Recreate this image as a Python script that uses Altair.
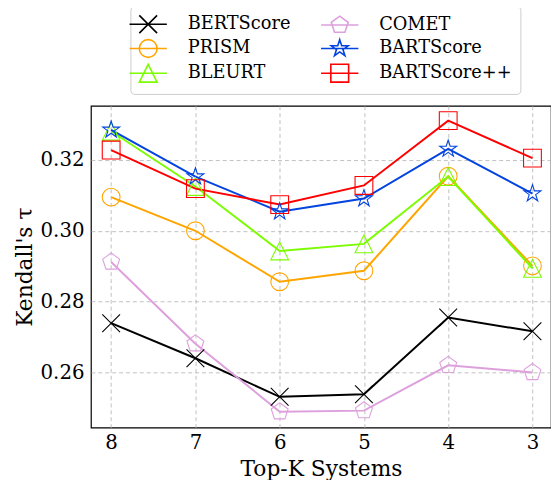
import altair as alt
import pandas as pd

top_k = [8, 7, 6, 5, 4, 3]
series_names = ["BERTScore", "PRISM", "BLEURT", "COMET", "BARTScore", "BARTScore++"]
bertscore = [0.2739, 0.2640, 0.2531, 0.2538, 0.2755, 0.2716]
prism = [0.3095, 0.3000, 0.2856, 0.2887, 0.3154, 0.2901]
bleurt = [0.3281, 0.3125, 0.2943, 0.2963, 0.3153, 0.2894]
comet = [0.2912, 0.2681, 0.2489, 0.2492, 0.2620, 0.2600]
bartscore = [0.3285, 0.3153, 0.3054, 0.3091, 0.3231, 0.3105]
bartscore_pp = [0.3228, 0.3119, 0.3074, 0.3128, 0.3311, 0.3205]
y_ticks = [0.26, 0.28, 0.30, 0.32]

colors = ["#000000", "#FFA500", "#7CFC00", "#DDA0DD", "#0343DF", "#FF0000"]
FONT = "DejaVu Serif, serif"

MARKERS = {
    "x": "M-1,-1L1,1M-1,1L1,-1",
    "circle": "M1,0A1,1,0,1,1,-1,0A1,1,0,1,1,1,0Z",
    "triangle": "M0,-1L1,1L-1,1Z",
    "pentagon": "M0,-1L0.951,-0.309L0.588,0.809L-0.588,0.809L-0.951,-0.309Z",
    "star": ("M0,-1L0.2245,-0.309L0.951,-0.309L0.363,0.118L0.588,0.809L0,0.382"
             "L-0.588,0.809L-0.363,0.118L-0.951,-0.309L-0.2245,-0.309Z"),
    "square": "M-1,-1L1,-1L1,1L-1,1Z",
}
marker_list = [MARKERS[k] for k in ["x", "circle", "triangle", "pentagon", "star", "square"]]
legend_marker_list = ["M-2.1,0L2.1,0" + m for m in marker_list]

values = [bertscore, prism, bleurt, comet, bartscore, bartscore_pp]
rows = []
for name, vals in zip(series_names, values):
    for k, v in zip(top_k, vals):
        rows.append({"k": k, "value": v, "series": name})
df = pd.DataFrame(rows)

x_enc = alt.X("k:Q",
              scale=alt.Scale(domain=[2.78, 8.24], reverse=True, nice=False, zero=False),
              axis=alt.Axis(values=top_k, format="d", title="Top-K Systems"))
y_enc = alt.Y("value:Q",
              scale=alt.Scale(domain=[0.2444, 0.3353], nice=False, zero=False),
              axis=alt.Axis(values=y_ticks, format=".2f", title="Kendall's τ"))

color_scale = alt.Scale(domain=series_names, range=colors)

base = alt.Chart(df)

lines = base.mark_line(strokeWidth=2).encode(
    x=x_enc, y=y_enc,
    color=alt.Color("series:N", scale=color_scale, legend=None),
    detail="series:N",
)

points = base.mark_point(filled=False, size=324, strokeWidth=1.1, opacity=1).encode(
    x=x_enc, y=y_enc,
    color=alt.Color("series:N", scale=color_scale, legend=None),
    shape=alt.Shape("series:N", scale=alt.Scale(domain=series_names, range=marker_list), legend=None),
)

legend_cfg = dict(title=None, orient="none", legendX=40, legendY=-101,
                  columns=2, symbolSize=324, symbolStrokeWidth=1.6,
                  labelFont=FONT, labelFontSize=18,
                  labelColor="black", labelOffset=30,
                  columnPadding=26, rowPadding=-1, padding=8,
                  strokeColor="#cccccc", cornerRadius=4,
                  fillColor="white", labelLimit=300)

legend_layer = base.transform_filter("datum.value < 0").mark_point(
    filled=False, size=324, strokeWidth=1.5, opacity=1).encode(
    x=x_enc, y=y_enc,
    color=alt.Color("series:N",
                    scale=alt.Scale(domain=series_names, range=colors),
                    legend=alt.Legend(**legend_cfg)),
    shape=alt.Shape("series:N",
                    scale=alt.Scale(domain=series_names, range=legend_marker_list),
                    legend=alt.Legend(**legend_cfg)),
)

chart = alt.layer(lines, points, legend_layer).resolve_scale(
    color="independent", shape="independent"
).properties(
    width=466, height=326,
    autosize=alt.AutoSizeParams(type="none"),
    padding={"left": 84, "top": 96, "right": 0, "bottom": 50},
).configure_view(
    stroke="black", strokeWidth=1.2
).configure_axis(
    labelFont=FONT, labelFontSize=20, labelColor="black",
    titleFont=FONT, titleFontSize=22, titleFontWeight="normal", titleColor="black",
    grid=True, gridColor="#b0b0b0", gridDash=[4, 3], gridWidth=0.8,
    domain=False, ticks=False,
).configure_axisY(
    labelPadding=7, titlePadding=4,
).configure_axisX(
    labelPadding=5, titlePadding=6,
)

chart.save("out.html", embed_options={"renderer": "svg", "actions": False})
